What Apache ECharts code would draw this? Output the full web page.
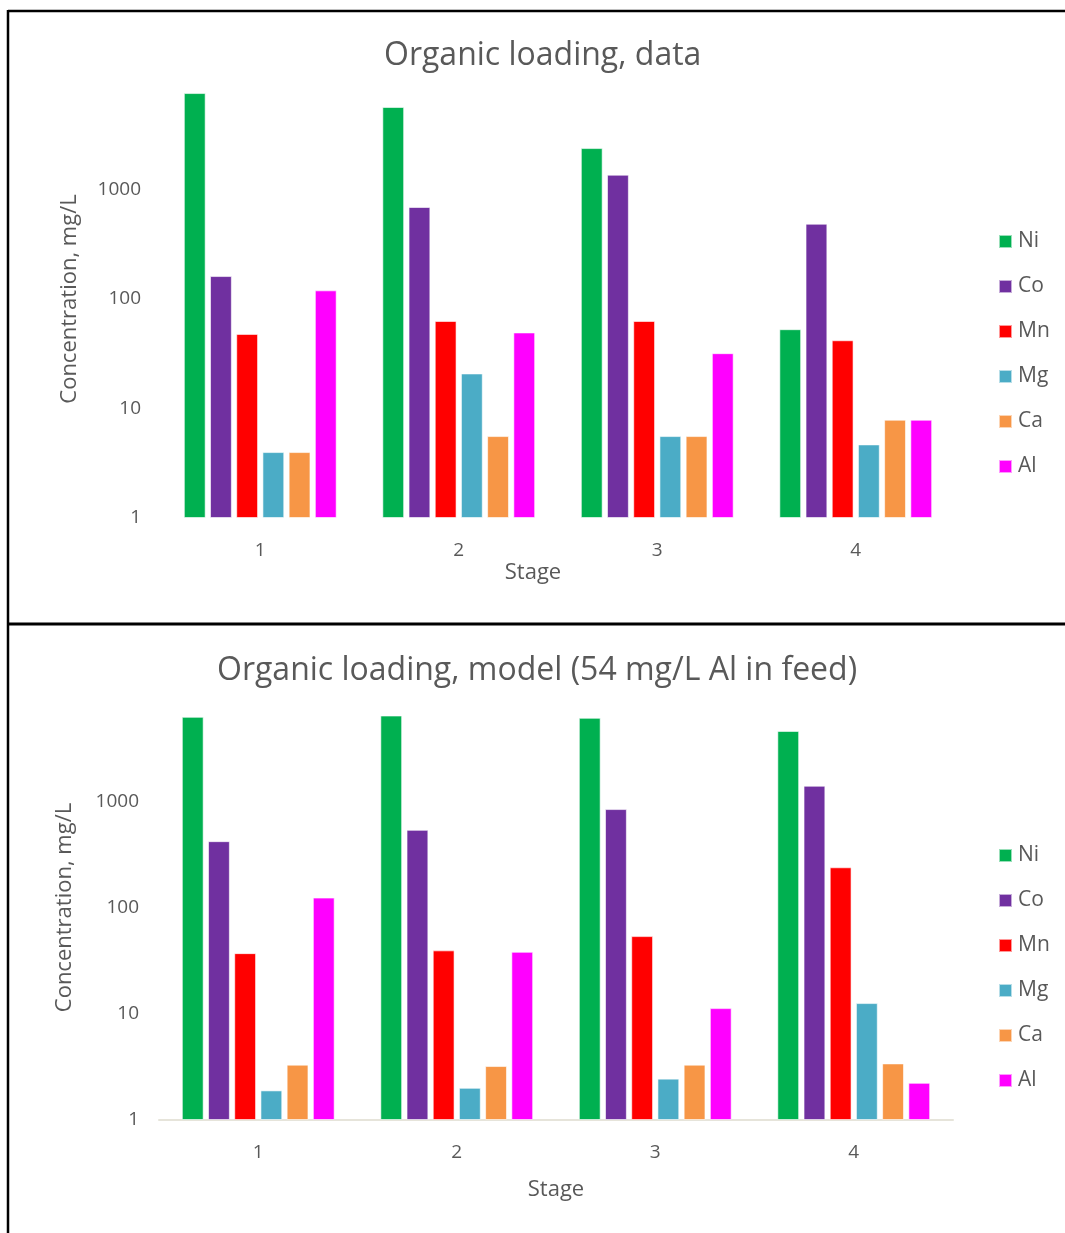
<!DOCTYPE html>
<html>
<head>
<meta charset="utf-8">
<script src="https://cdn.jsdelivr.net/npm/echarts@6/dist/echarts.min.js"></script>
<style>
html,body{margin:0;padding:0;background:#fff;}
#c{width:1065px;height:1233px;}
</style>
</head>
<body>
<div id="c"></div>
<script>
const stages = ['1', '2', '3', '4'];
const elements = ['Ni', 'Co', 'Mn', 'Mg', 'Ca', 'Al'];
const colors = ['#00B050', '#7030A0', '#FF0000', '#4BACC6', '#F79646', '#FF00FF'];

// Top chart: data
const dataNi = [7600, 5670, 2390, 53];
const dataCo = [162, 692, 1365, 487];
const dataMn = [48, 63, 63, 42];
const dataMg = [4.0, 20.9, 5.6, 4.7];
const dataCa = [4.0, 5.6, 5.6, 7.9];
const dataAl = [120, 49.5, 32, 7.9];

// Bottom chart: model
const modelNi = [6230, 6410, 6100, 4590];
const modelCo = [421, 538, 844, 1400];
const modelMn = [37.2, 39.5, 53.8, 239];
const modelMg = [1.90, 2.01, 2.45, 12.6];
const modelCa = [3.32, 3.22, 3.32, 3.41];
const modelAl = [124, 38.3, 11.3, 2.24];

const yTicks = ['1', '10', '100', '1000'];

const topSeries = [dataNi, dataCo, dataMn, dataMg, dataCa, dataAl];
const botSeries = [modelNi, modelCo, modelMn, modelMg, modelCa, modelAl];

const FONT = 'Open Sans';
const txt = '#595959';

function yAxis(gi, gap) {
  return {
    type: 'log', logBase: 10, min: 1, max: 10000, gridIndex: gi,
    name: 'Concentration, mg/L', nameLocation: 'middle', nameGap: gap,
    nameTextStyle: { color: txt, fontSize: 22, fontFamily: FONT },
    axisLine: { show: false }, axisTick: { show: false },
    splitLine: { show: false },
    axisLabel: {
      color: txt, fontSize: 19, fontFamily: FONT, margin: 20,
      formatter: v => (yTicks.indexOf(String(Math.round(v))) >= 0 ? String(Math.round(v)) : '')
    }
  };
}

function xAxis(gi, showLine, namePad, gap) {
  return {
    type: 'category', data: stages, gridIndex: gi,
    name: 'Stage', nameLocation: 'middle', nameGap: gap,
    nameTextStyle: { color: txt, fontSize: 22, fontFamily: FONT, padding: namePad },
    axisLine: { show: showLine, lineStyle: { color: '#E6E4DA', width: 2 } },
    axisTick: { show: false },
    axisLabel: { color: txt, fontSize: 19, fontFamily: FONT, margin: 23 }
  };
}

const series = [];
elements.forEach((el, i) => {
  series.push({
    name: el, type: 'bar', xAxisIndex: 0, yAxisIndex: 0, data: topSeries[i],
    itemStyle: { color: colors[i], borderColor: 'rgba(255,255,255,0.6)', borderWidth: 1 },
    barGap: '20%', barCategoryGap: '23%'
  });
});
elements.forEach((el, i) => {
  series.push({
    name: el, type: 'bar', xAxisIndex: 1, yAxisIndex: 1, data: botSeries[i],
    itemStyle: { color: colors[i], borderColor: 'rgba(255,255,255,0.6)', borderWidth: 1 },
    barGap: '20%', barCategoryGap: '23%'
  });
});

function legend(top) {
  return {
    orient: 'vertical', left: 993, top: top,
    data: elements, itemWidth: 13, itemHeight: 13, itemGap: 24,
    icon: 'rect', selectedMode: false,
    textStyle: { color: txt, fontSize: 21, fontFamily: FONT, padding: [0, 0, 0, 1] }
  };
}

const chart = echarts.init(document.getElementById('c'), null, { renderer: 'canvas' });
chart.setOption({
  animation: false,
  backgroundColor: '#fff',
  color: colors,
  title: [
    { text: 'Organic loading, data', left: 379, top: 35,
      textStyle: { color: txt, fontSize: 32, fontWeight: 'normal', fontFamily: FONT } },
    { text: 'Organic loading, model (54 mg/L Al in feed)', left: 212, top: 650,
      textStyle: { color: txt, fontSize: 32, fontWeight: 'normal', fontFamily: FONT } }
  ],
  legend: [legend(226), legend(840)],
  grid: [
    { left: 161, width: 794, top: 80, height: 438 },
    { left: 159, width: 794, top: 695, height: 425 }
  ],
  xAxis: [xAxis(0, false, [0, 50, 0, 0], 44), xAxis(1, true, [0, 0, 0, 0], 59)],
  yAxis: [yAxis(0, 80), yAxis(1, 83)],
  series: series,
  graphic: [
    { type: 'line', shape: { x1: 8, y1: 11, x2: 1070, y2: 11 }, style: { stroke: '#000', lineWidth: 2.5 } },
    { type: 'line', shape: { x1: 8, y1: 10, x2: 8, y2: 1240 }, style: { stroke: '#000', lineWidth: 2.5 } },
    { type: 'line', shape: { x1: 8, y1: 624, x2: 1070, y2: 624 }, style: { stroke: '#000', lineWidth: 3 } }
  ]
});
</script>
</body>
</html>
